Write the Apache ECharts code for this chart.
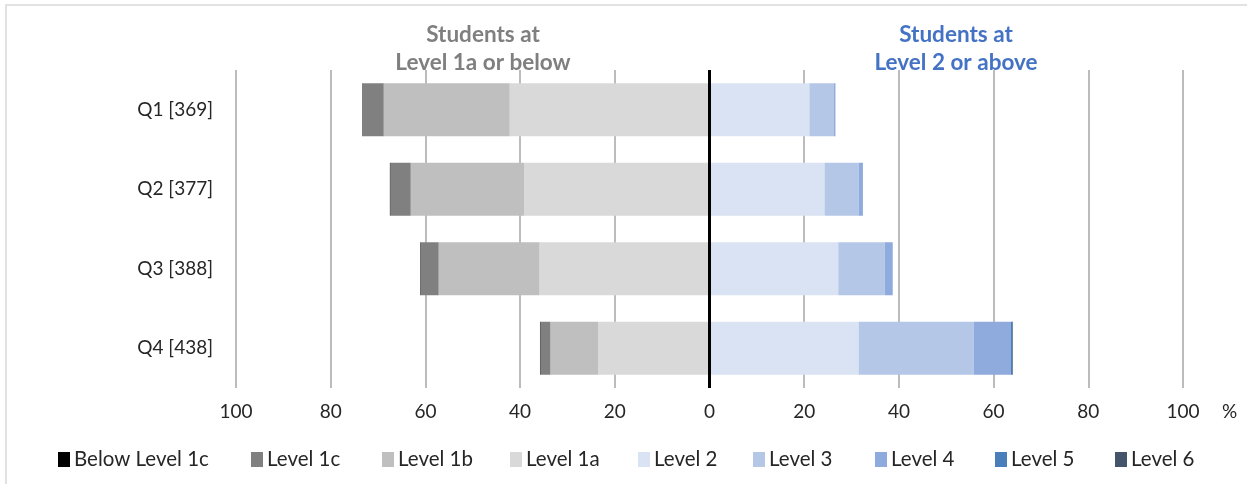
<!DOCTYPE html>
<html>
<head>
<meta charset="utf-8">
<script src="https://cdn.jsdelivr.net/npm/echarts@6/dist/echarts.min.js"></script>
<style>html,body{margin:0;padding:0;background:#fff;}#c{width:1247px;height:484px;}</style>
</head>
<body>
<div id="c"></div>
<script>
var categories = ['Q1 [369]', 'Q2 [377]', 'Q3 [388]', 'Q4 [438]'];
var xTicks = [-100, -80, -60, -40, -20, 0, 20, 40, 60, 80, 100];
var legendNames = ['Below Level 1c', 'Level 1c', 'Level 1b', 'Level 1a', 'Level 2', 'Level 3', 'Level 4', 'Level 5', 'Level 6'];
// percentages of students (below-level values drawn to the left of zero)
var belowLevel1c = [0.1, 0.1, 0.1, 0.1];
var level1c = [4.4, 4.3, 3.8, 2.1];
var level1b = [26.6, 24.0, 21.3, 10.1];
var level1a = [42.2, 39.1, 35.9, 23.5];
var level2 = [21.1, 24.3, 27.2, 31.5];
var level3 = [5.2, 7.2, 9.8, 24.3];
var level4 = [0.3, 0.9, 1.7, 7.8];
var level5 = [0.0, 0.0, 0.0, 0.4];
var level6 = [0.0, 0.0, 0.0, 0.1];

var FONT = 'Lato';
var legendLefts = [58, 251, 382, 510, 638, 753, 875, 995, 1115];
var chart = echarts.init(document.getElementById('c'));

function neg(a){ return a.map(function(v){ return -v; }); }
function bar(name, data, color){
  return {
    name: name, type: 'bar', stack: 'total', data: data, barWidth: 53,
    itemStyle: { color: color },
    emphasis: { disabled: true }
  };
}

var series = [
  bar('Level 1a', neg(level1a), '#d9d9d9'),
  bar('Level 1b', neg(level1b), '#bfbfbf'),
  bar('Level 1c', neg(level1c), '#808080'),
  bar('Below Level 1c', neg(belowLevel1c), '#000000'),
  bar('Level 2', level2, '#dae3f3'),
  bar('Level 3', level3, '#b4c7e7'),
  bar('Level 4', level4, '#8faadc'),
  bar('Level 5', level5, '#4a7ebb'),
  bar('Level 6', level6, '#44546a')
];
series[0].markLine = {
  silent: true, symbol: ['none', 'none'], label: { show: false },
  lineStyle: { color: '#000', width: 3, type: 'solid' },
  data: [{ xAxis: 0 }]
};

var legends = legendNames.map(function(n, i){
  return {
    data: [n], left: legendLefts[i], top: 449, itemWidth: 12, itemHeight: 15,
    icon: 'rect', selectedMode: false, padding: 0,
    textStyle: { fontSize: 20.5, color: '#262626', fontFamily: FONT, padding: [0, 0, 0, -1] }
  };
});

chart.setOption({
  animation: false,
  textStyle: { fontFamily: FONT },
  title: [
    { text: 'Students at\nLevel 1a or below', left: 478, top: 16, textAlign: 'center',
      textStyle: { color: '#7f7f7f', fontSize: 22.5, fontWeight: 'bold', fontFamily: FONT, lineHeight: 28 } },
    { text: 'Students at\nLevel 2 or above', left: 951, top: 16, textAlign: 'center',
      textStyle: { color: '#4472c4', fontSize: 22.5, fontWeight: 'bold', fontFamily: FONT, lineHeight: 28 } }
  ],
  legend: legends,
  grid: { left: 236, right: 64, top: 70, bottom: 96, containLabel: false },
  xAxis: {
    type: 'value', min: -100, max: 100, interval: 20,
    axisLine: { show: false }, axisTick: { show: false },
    splitLine: { show: true, lineStyle: { color: '#a6a6a6', width: 1.5 } },
    axisLabel: {
      fontSize: 19, color: '#262626', margin: 14, fontFamily: FONT,
      formatter: function(v){ return String(Math.abs(v)); }
    }
  },
  yAxis: {
    type: 'category', data: categories, inverse: true,
    axisLine: { show: false }, axisTick: { show: false },
    axisLabel: { fontSize: 19, color: '#262626', margin: 23, fontFamily: FONT }
  },
  graphic: [
    { type: 'text', left: 1222, top: 402, style: { text: '%', fontSize: 19, fill: '#262626', fontFamily: FONT } },
    { type: 'rect', shape: { x: 6, y: 5, width: 1260, height: 500 }, style: { fill: 'none', stroke: '#d9d9d9', lineWidth: 1.5 }, silent: true, z: -1 }
  ],
  series: series
});
</script>
</body>
</html>
